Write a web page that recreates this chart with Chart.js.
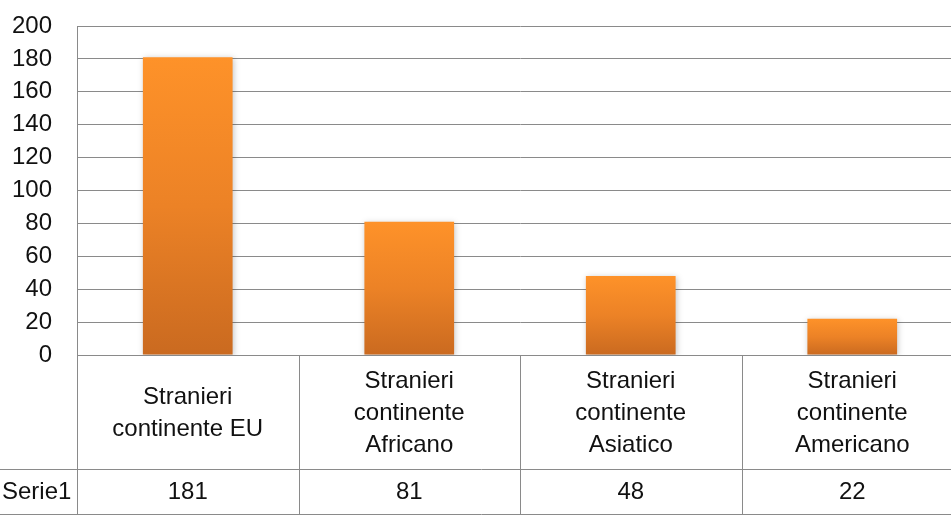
<!DOCTYPE html>
<html><head><meta charset="utf-8">
<script src="https://cdn.jsdelivr.net/npm/chart.js@4.4.0/dist/chart.umd.min.js"></script>
<style>
html,body{margin:0;padding:0;background:#fff;overflow:hidden;width:951px;height:515px}
#wrap{width:966px;height:515px;position:relative}
canvas{display:block}
</style></head><body>
<div id="wrap"><canvas id="c" width="966" height="515"></canvas></div>
<script>
const categories = [
  ["Stranieri", "continente EU"],
  ["Stranieri", "continente", "Africano"],
  ["Stranieri", "continente", "Asiatico"],
  ["Stranieri", "continente", "Americano"]
];
const seriesName = "Serie1";
const values = [181, 81, 48, 22];
const yMin = 0, yMax = 200, yStep = 20;

const FONT = "'Liberation Sans', Arial, sans-serif";
const GRID = '#8a8a8a';

const shadowPlugin = {
  id: 'barShadow',
  beforeDatasetDraw(chart) {
    const ctx = chart.ctx;
    ctx.save();
    ctx.shadowColor = 'rgba(0,0,0,0.22)';
    ctx.shadowBlur = 6;
    ctx.shadowOffsetX = 1;
    ctx.shadowOffsetY = 1;
  },
  afterDatasetDraw(chart) { chart.ctx.restore(); }
};

const tablePlugin = {
  id: 'dataTable',
  afterDraw(chart) {
    const ctx = chart.ctx;
    const { left, right, bottom } = chart.chartArea;
    const xs = chart.scales.x;
    const rowSplit = bottom + 114;
    const tableBottom = bottom + 159;
    ctx.save();
    ctx.strokeStyle = GRID;
    ctx.lineWidth = 1;
    const hl = (x1, x2, y) => { ctx.beginPath(); ctx.moveTo(x1, Math.round(y) + 0.5); ctx.lineTo(x2, Math.round(y) + 0.5); ctx.stroke(); };
    const vl = (x, y1, y2) => { ctx.beginPath(); ctx.moveTo(Math.round(x) + 0.5, y1); ctx.lineTo(Math.round(x) + 0.5, y2); ctx.stroke(); };
    hl(left, right, bottom);
    hl(0, right, rowSplit);
    hl(0, right, tableBottom);
    for (let i = 0; i <= categories.length; i++) {
      const xb = xs.getPixelForValue(i - 0.5);
      vl(i === 0 ? left : xb, bottom, tableBottom + 1);
    }
    ctx.fillStyle = '#111';
    ctx.font = '24px ' + FONT;
    ctx.textAlign = 'center';
    ctx.textBaseline = 'middle';
    const lh = 32;
    const midCat = (bottom + rowSplit) / 2 + 1;
    const midVal = (rowSplit + tableBottom) / 2 + 1;
    categories.forEach((lines, i) => {
      const cx = xs.getPixelForValue(i);
      const y0 = midCat - (lines.length - 1) * lh / 2;
      lines.forEach((t, k) => ctx.fillText(t, cx, y0 + k * lh));
      ctx.fillText(String(values[i]), cx, midVal);
    });
    ctx.textAlign = 'left';
    ctx.fillText(seriesName, 2, midVal);
    ctx.restore();
  }
};

new Chart(document.getElementById('c'), {
  type: 'bar',
  data: {
    labels: categories.map(c => c.join(' ')),
    datasets: [{
      label: seriesName,
      data: values,
      backgroundColor: (c) => {
        const chart = c.chart;
        const { ctx, chartArea, scales } = chart;
        if (!chartArea || c.raw === undefined) return '#F08A2A';
        const y0 = scales.y.getPixelForValue(0);
        const y1 = scales.y.getPixelForValue(c.raw);
        const g = ctx.createLinearGradient(0, y1, 0, y0);
        g.addColorStop(0, '#FE9229');
        g.addColorStop(0.5, '#EC8226');
        g.addColorStop(1, '#CA6A20');
        return g;
      },
      borderWidth: 0,
      barPercentage: 0.405,
      categoryPercentage: 1
    }]
  },
  options: {
    responsive: false,
    animation: false,
    layout: { padding: { top: 26, right: 3, bottom: 160, left: 0 } },
    plugins: { legend: { display: false }, tooltip: { enabled: false } },
    scales: {
      x: { display: false, grid: { display: false } },
      y: {
        min: yMin, max: yMax,
        ticks: { stepSize: yStep, padding: 25, color: '#111', font: { family: FONT, size: 24 } },
        grid: { color: GRID, drawTicks: false, lineWidth: 1 },
        border: { color: GRID, width: 1 },
        afterFit(scale) { scale.width = 77; scale.paddingTop = 0; scale.paddingBottom = 0; }
      }
    }
  },
  plugins: [shadowPlugin, tablePlugin]
});
</script>
</body></html>
